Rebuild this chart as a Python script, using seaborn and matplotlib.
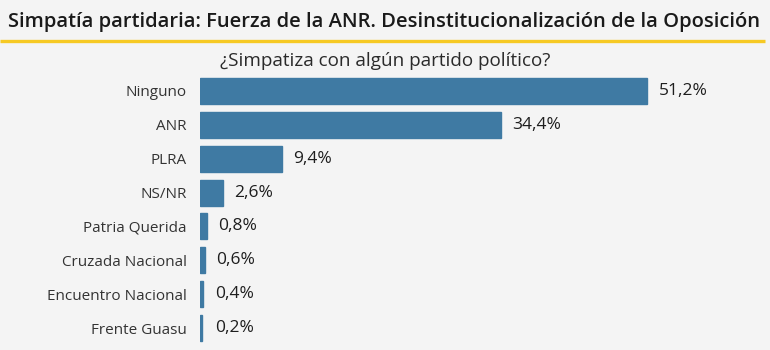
import matplotlib
matplotlib.use("Agg")
import matplotlib.pyplot as plt
import seaborn as sns
import pandas as pd

categories = ["Ninguno", "ANR", "PLRA", "NS/NR", "Patria Querida",
              "Cruzada Nacional", "Encuentro Nacional", "Frente Guasu"]
values = [51.2, 34.4, 9.4, 2.6, 0.8, 0.6, 0.4, 0.2]
value_labels = ["51,2%", "34,4%", "9,4%", "2,6%", "0,8%", "0,6%", "0,4%", "0,2%"]

title = "Simpatía partidaria: Fuerza de la ANR. Desinstitucionalización de la Oposición"
subtitle = "¿Simpatiza con algún partido político?"

sns.set_theme(style="white")
plt.rcParams['font.family'] = ['Open Sans', 'DejaVu Sans']

bg = "#f4f4f4"
bar_color = "#3f7aa3"
W, H = 770, 350
fig = plt.figure(figsize=(W / 100, H / 100), dpi=100, facecolor=bg)

# axes: pixel x 200..740, y 74..345
ax = fig.add_axes([200 / W, 1 - 345 / H, 540 / W, (345 - 74) / H])
ax.set_facecolor(bg)

df = pd.DataFrame({"cat": categories, "val": values})
sns.barplot(data=df, y="cat", x="val", orient="h", color=bar_color,
            saturation=1, width=0.77, edgecolor=bar_color, linewidth=1, ax=ax)

ax.set_xlim(0, 540 / 8.74)
ax.set_ylim(len(categories) - 0.5, -0.5)
for s in ax.spines.values():
    s.set_visible(False)
ax.set_xticks([])
ax.set_xlabel("")
ax.set_ylabel("")
ax.tick_params(axis="y", length=0, pad=9.5, labelsize=11, labelcolor="#333333")

for i, (v, lab) in enumerate(zip(values, value_labels)):
    ax.annotate(lab, xy=(max(v, 0.5), i), xytext=(8, 0), textcoords="offset points",
                ha="left", va="center", fontsize=12.5, color="#1e1e1e",
                fontweight="medium")

fig.text(384 / W, 1 - 27 / H, title, ha="center", va="baseline", fontsize=14.5,
         fontweight="semibold", color="#1a1a1a")
fig.add_artist(plt.Line2D([0, 765 / W], [1 - 40.5 / H, 1 - 40.5 / H],
                          transform=fig.transFigure, color="#f6c924", lw=2.4,
                          solid_capstyle="butt"))
fig.text(385 / W, 1 - 66 / H, subtitle, ha="center", va="baseline", fontsize=13.6,
         color="#2a2a2a")

fig.savefig("out.png", dpi=100, facecolor=bg)
